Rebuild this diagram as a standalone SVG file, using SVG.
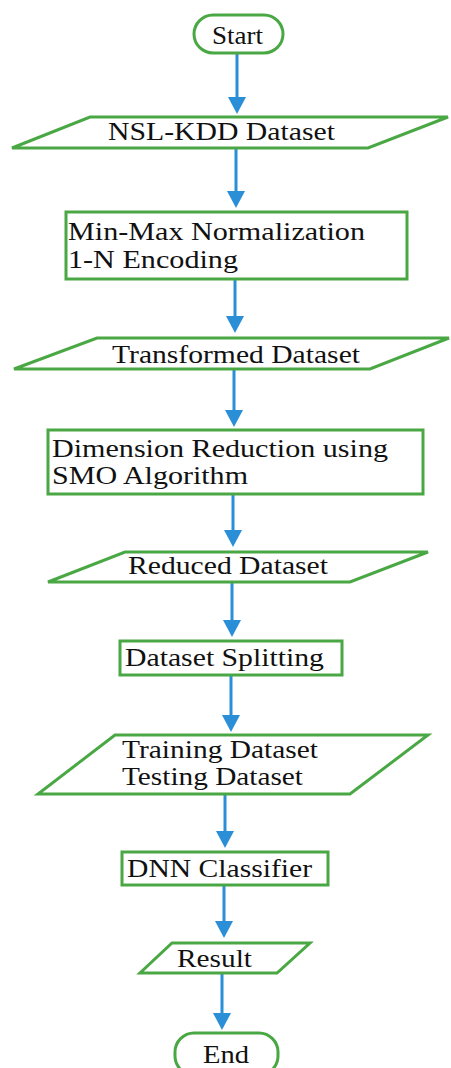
<svg xmlns="http://www.w3.org/2000/svg" width="451" height="1068" viewBox="0 0 451 1068">
<style>
.shape{fill:#fff;stroke:#4aa844;stroke-width:3}
.lbl{font-family:"Liberation Serif","Times New Roman",serif;font-size:25px;fill:#111}
.conn{stroke:#2b8fd8;stroke-width:3;fill:none;marker-end:url(#ah)}
</style>
<defs>
<marker id="ah" markerUnits="userSpaceOnUse" markerWidth="17" markerHeight="18" viewBox="0 0 17 18" refX="7" refY="9" orient="auto">
<path d="M0,0 L17,9 L0,18 Z" fill="#2b8fd8"/>
</marker>
</defs>
<rect width="451" height="1068" fill="#fff"/>
<g id="connectors">
<line class="conn" x1="237" y1="54" x2="237" y2="104"/>
<line class="conn" x1="236" y1="149" x2="236" y2="198"/>
<line class="conn" x1="235" y1="280" x2="235" y2="323"/>
<line class="conn" x1="234" y1="370" x2="234" y2="417"/>
<line class="conn" x1="233" y1="495" x2="233" y2="537"/>
<line class="conn" x1="232" y1="583" x2="232" y2="627"/>
<line class="conn" x1="231" y1="676" x2="231" y2="722"/>
<line class="conn" x1="225" y1="795" x2="225" y2="838"/>
<line class="conn" x1="224" y1="886" x2="224" y2="928"/>
<line class="conn" x1="222" y1="974" x2="222" y2="1020"/>
</g>
<g id="start">
<rect class="shape" x="194" y="15" width="89" height="38" rx="19"/>
<text class="lbl" x="212" y="44" textLength="51" lengthAdjust="spacingAndGlyphs">Start</text>
</g>
<g id="nsl-kdd">
<polygon class="shape" points="90,117 448,117 368,148 12,148"/>
<text class="lbl" x="108" y="140" textLength="227" lengthAdjust="spacingAndGlyphs">NSL-KDD Dataset</text>
</g>
<g id="normalization">
<rect class="shape" x="66" y="212" width="341" height="67"/>
<text class="lbl" x="68" y="240" textLength="297" lengthAdjust="spacingAndGlyphs">Min-Max Normalization</text>
<text class="lbl" x="68" y="268" textLength="170" lengthAdjust="spacingAndGlyphs">1-N Encoding</text>
</g>
<g id="transformed">
<polygon class="shape" points="97,338 449,338 370,369 14,369"/>
<text class="lbl" x="112" y="363" textLength="248" lengthAdjust="spacingAndGlyphs">Transformed Dataset</text>
</g>
<g id="reduction">
<rect class="shape" x="48" y="430" width="375" height="64"/>
<text class="lbl" x="52" y="457" textLength="336" lengthAdjust="spacingAndGlyphs">Dimension Reduction using</text>
<text class="lbl" x="52" y="484" textLength="196" lengthAdjust="spacingAndGlyphs">SMO Algorithm</text>
</g>
<g id="reduced">
<polygon class="shape" points="125,552 428,552 350,582 48,582"/>
<text class="lbl" x="128" y="574" textLength="200" lengthAdjust="spacingAndGlyphs">Reduced Dataset</text>
</g>
<g id="splitting">
<rect class="shape" x="120" y="641" width="222" height="34"/>
<text class="lbl" x="125" y="666" textLength="199" lengthAdjust="spacingAndGlyphs">Dataset Splitting</text>
</g>
<g id="train-test">
<polygon class="shape" points="115,735 428,735 350,794 38,794"/>
<text class="lbl" x="122" y="758" textLength="196" lengthAdjust="spacingAndGlyphs">Training Dataset</text>
<text class="lbl" x="122" y="785" textLength="181" lengthAdjust="spacingAndGlyphs">Testing Dataset</text>
</g>
<g id="dnn">
<rect class="shape" x="122" y="852" width="206" height="33"/>
<text class="lbl" x="127" y="877" textLength="185" lengthAdjust="spacingAndGlyphs">DNN Classifier</text>
</g>
<g id="result">
<polygon class="shape" points="172,943 310,943 277,973 140,973"/>
<text class="lbl" x="177" y="967" textLength="75" lengthAdjust="spacingAndGlyphs">Result</text>
</g>
<g id="end">
<rect class="shape" x="175" y="1033" width="103" height="42" rx="19"/>
<text class="lbl" x="203" y="1063" textLength="46" lengthAdjust="spacingAndGlyphs">End</text>
</g>
</svg>
